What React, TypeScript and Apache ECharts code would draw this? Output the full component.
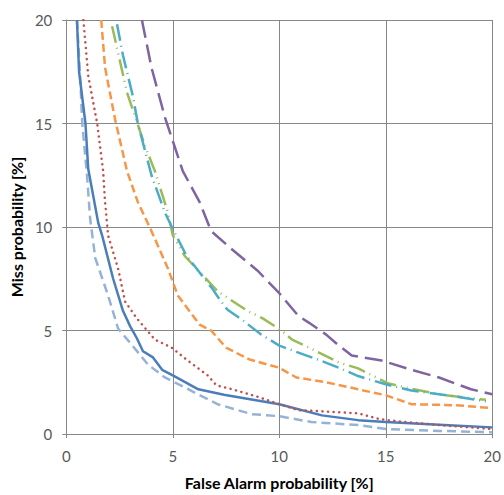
import React, { useEffect, useRef } from "react";
import * as echarts from "echarts";

const xTicks = [0, 5, 10, 15, 20];
const yTicks = [0, 5, 10, 15, 20];
const xAxisName = "False Alarm probability [%]";
const yAxisName = "Miss probability [%]";

const solidBlue: number[][] = [[0.5,20],[0.6,17.5],[0.9,15],[1.03,12.8],[1.5,10.2],[1.68,9.6],[2.2,7.5],[2.66,5.95],[3.0,5.2],[3.3,4.65],[3.6,4.0],[4.07,3.7],[4.5,3.1],[5.0,2.83],[6.2,2.16],[7.4,1.9],[10,1.44],[12,0.9],[13.7,0.67],[15,0.58],[17.5,0.45],[20,0.32]];
const lightBlue: number[][] = [[0.5,20],[0.65,17.3],[0.75,15],[0.98,12.4],[1.12,10.4],[1.36,8.5],[1.96,6.7],[2.43,5.1],[3.08,4.3],[3.83,3.36],[4.63,2.73],[5.56,2.25],[6.17,1.92],[7.1,1.44],[8.7,0.96],[10,0.86],[11.5,0.58],[13.7,0.43],[15,0.24],[17.5,0.15],[20,0.08]];
const redDotted: number[][] = [[0.8,20],[1.03,17.3],[1.45,15],[1.73,12.7],[1.82,11.2],[1.96,9.6],[2.43,8.0],[2.76,6.4],[3.3,5.6],[3.55,5.3],[4.16,4.56],[4.95,4.17],[5.7,3.55],[6.64,2.83],[7.05,2.35],[7.8,2.16],[9.07,1.77],[10,1.44],[10.9,1.15],[11.9,1.1],[13.7,1.0],[14.7,0.72],[15.9,0.58],[17.5,0.43],[20,0.24]];
const orangeDash: number[][] = [[1.64,20],[1.82,17.7],[2.29,15.2],[2.85,12.7],[3.36,11.2],[4.0,9.8],[4.77,8.0],[5.23,6.7],[6.26,5.28],[6.8,5.0],[7.5,4.17],[8.6,3.6],[10,3.2],[10.8,2.73],[12.2,2.5],[13.7,2.16],[15,1.87],[16.2,1.44],[18.3,1.39],[20,1.25]];
const greenDashDotDot: number[][] = [[2.15,19.7],[2.85,16.5],[3.7,13.9],[4.16,12.7],[4.77,10.7],[5.0,9.6],[5.56,8.6],[7.1,6.9],[8.5,5.95],[9.2,5.6],[10.1,5.0],[10.6,4.56],[11.4,4.17],[12.8,3.45],[13.7,3.17],[15.1,2.45],[16.1,2.2],[17.8,1.87],[19.7,1.65]];
const aquaDashDot: number[][] = [[2.38,19.8],[2.66,18.3],[3.13,16.3],[3.36,15.0],[4.0,12.5],[4.63,10.7],[5.0,9.9],[5.65,8.6],[6.87,7.0],[7.2,6.5],[7.57,6.0],[8.27,5.5],[9.16,4.8],[10,4.27],[10.5,4.08],[11.8,3.6],[12.8,3.2],[13.7,2.8],[15,2.4],[16.2,2.1],[17.9,1.87],[19.7,1.58]];
const purpleLongDash: number[][] = [[3.55,20],[4.0,17.7],[4.63,15.3],[5.47,12.7],[6.26,11.2],[6.8,9.8],[7.8,8.9],[8.97,7.9],[10,6.8],[10.9,5.7],[11.4,5.37],[12.2,4.8],[12.8,4.27],[13.4,3.79],[14.8,3.55],[16.2,3.1],[17.5,2.73],[19.0,2.16],[20,1.92]];

const FONT = "Lato";

function mkSeries(name: string, data: number[][], color: string, type: any, cap: any = "butt") {
  return {
    name,
    type: "line",
    data,
    showSymbol: false,
    symbol: "none",
    smooth: false,
    clip: true,
    lineStyle: { color, width: 2.5, type, cap },
  };
}

export default function App() {
  const ref = useRef<HTMLDivElement>(null);
  useEffect(() => {
    if (!ref.current) return;
    const chart = echarts.init(ref.current, undefined, { renderer: "svg" });
    const axisCommon = {
      type: "value",
      min: xTicks[0],
      max: xTicks[xTicks.length - 1],
      interval: 5,
      nameLocation: "middle",
      nameTextStyle: { color: "#000", fontWeight: "bold", fontSize: 16, fontFamily: FONT },
      axisLine: { show: true, lineStyle: { color: "#878787", width: 1 } },
      axisTick: { show: true, inside: false, length: 4, lineStyle: { color: "#878787" } },
      axisLabel: { color: "#595959", fontSize: 15, fontFamily: FONT },
      splitLine: { show: true, lineStyle: { color: "#878787", width: 1 } },
    };
    chart.setOption({
      animation: false,
      grid: { left: 66, right: 10, top: 20, bottom: 58, containLabel: false },
      xAxis: {
        ...axisCommon,
        name: xAxisName,
        nameGap: 40,
        axisLabel: { ...axisCommon.axisLabel, margin: 14 },
      },
      yAxis: {
        ...axisCommon,
        min: yTicks[0],
        max: yTicks[yTicks.length - 1],
        name: yAxisName,
        nameGap: 38,
        nameRotate: 90,
        axisLabel: { ...axisCommon.axisLabel, margin: 14 },
      },
      series: [
        mkSeries("A", lightBlue, "#95B3D7", [9, 5]),
        mkSeries("B", solidBlue, "#4A7EBB", "solid"),
        mkSeries("C", redDotted, "#C0504D", [0.1, 5.5], "round"),
        mkSeries("D", orangeDash, "#F79646", [8, 4]),
        mkSeries("E", greenDashDotDot, "#9BBB59", [17, 5, 1, 5, 1, 5]),
        mkSeries("F", aquaDashDot, "#4BACC6", [17, 5, 1, 5]),
        mkSeries("G", purpleLongDash, "#8064A2", [18, 7]),
      ],
    });
    return () => chart.dispose();
  }, []);
  return <div ref={ref} style={{ width: 504, height: 495, position: "absolute", left: 0, top: 0 }} />;
}
